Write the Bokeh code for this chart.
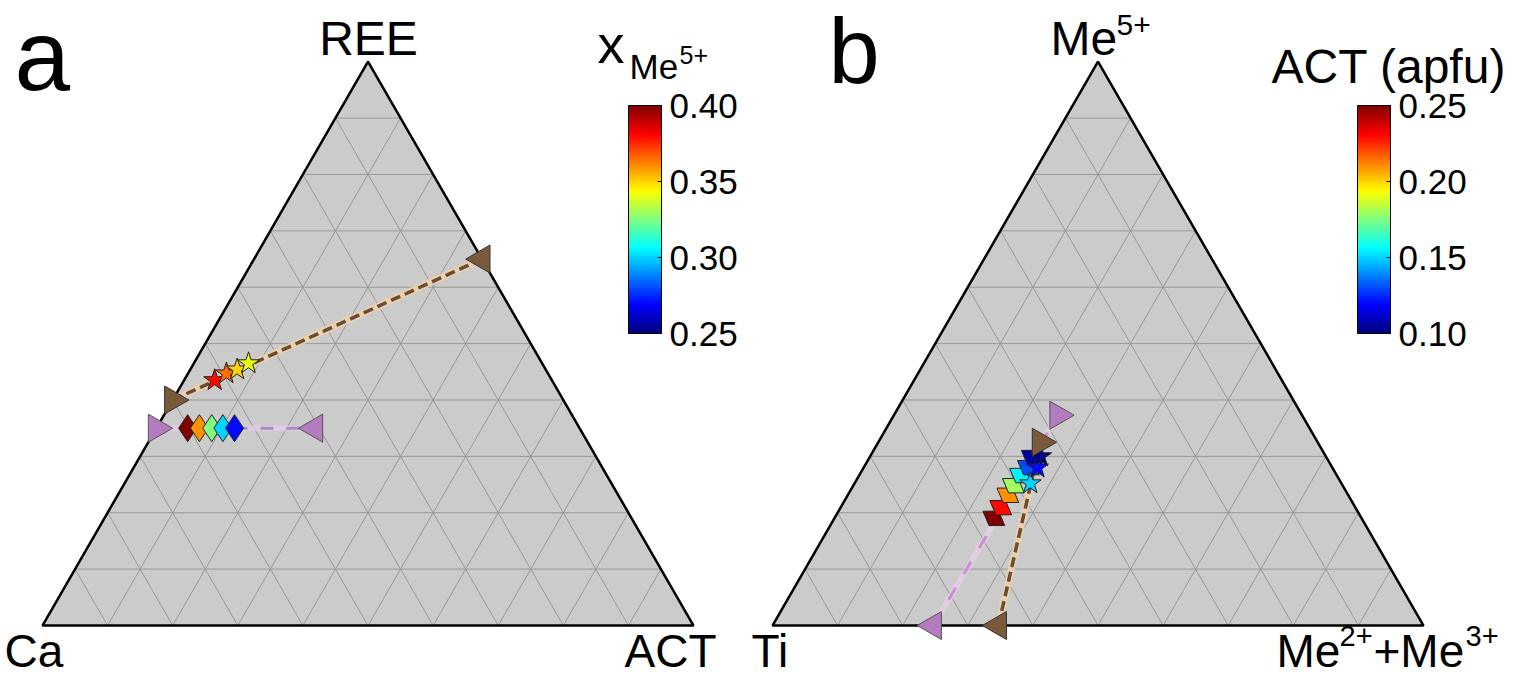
import numpy as np
from bokeh.plotting import figure
from bokeh.models import (LinearColorMapper, ColorBar, FixedTicker, ColumnDataSource,
                          PrintfTickFormatter, Label, Range1d)
from bokeh.embed import file_html
from bokeh.resources import INLINE

# ---------------- data : panel a  (Ca - ACT - REE) ----------------
a_diamond_ree = [0.35, 0.35, 0.35, 0.35, 0.35]
a_diamond_act = [0.048, 0.066, 0.085, 0.102, 0.120]
a_diamond_xme5 = [0.40, 0.36, 0.325, 0.30, 0.27]

a_star_ree = [0.435, 0.447, 0.454, 0.465]
a_star_act = [0.047, 0.059, 0.072, 0.084]
a_star_xme5 = [0.38, 0.365, 0.35, 0.34]

a_brown_ree = [0.40, 0.65]
a_brown_act = [0.00, 0.35]
a_purple_ree = [0.35, 0.35]
a_purple_act = [0.00, 0.243]

a_cbar_low, a_cbar_high = 0.25, 0.40
a_cbar_ticks = [0.25, 0.30, 0.35, 0.40]

# ---------------- data : panel b  (Ti - Me2++Me3+ - Me5+) ----------------
b_diamond_me5 = [0.190, 0.209, 0.231, 0.248, 0.266, 0.280, 0.298]
b_diamond_me23 = [0.245, 0.246, 0.246, 0.246, 0.248, 0.253, 0.250]
b_diamond_act = [0.25, 0.23, 0.21, 0.18, 0.155, 0.13, 0.105]

b_star_me5 = [0.252, 0.280, 0.300]
b_star_me23 = [0.270, 0.267, 0.262]
b_star_act = [0.15, 0.12, 0.10]

b_brown_me5 = [0.000, 0.325]
b_brown_me23 = [0.347, 0.249]
b_purple_me5 = [0.000, 0.373]
b_purple_me23 = [0.247, 0.252]

b_cbar_low, b_cbar_high = 0.10, 0.25
b_cbar_ticks = [0.10, 0.15, 0.20, 0.25]

# ---------------- layout helpers ----------------
W, H = 1515, 679
S = 651.0                 # pixels per triangle side
OX_A, OY = 42, 625        # pixel of bottom-left vertex, panel a
OX_B = 772                # pixel of bottom-left vertex, panel b
XB = (OX_B - OX_A) / S    # data offset of panel b
R3 = np.sqrt(3) / 2


def tern(right, top, x0=0.0):
    right = np.asarray(right, float)
    top = np.asarray(top, float)
    return right + top / 2 + x0, top * R3


def dx(px):
    return (px - OX_A) / S


def dy(py):
    return (OY - py) / S


def jet(n=256):
    t = np.linspace(0, 1, n)
    r = np.clip(1.5 - np.abs(4 * t - 3), 0, 1)
    g = np.clip(1.5 - np.abs(4 * t - 2), 0, 1)
    b = np.clip(1.5 - np.abs(4 * t - 1), 0, 1)
    return ["#%02x%02x%02x" % (int(a * 255), int(c * 255), int(d * 255))
            for a, c, d in zip(r, g, b)]


JET = jet()
FONT = "Liberation Sans"
BROWN = "#7a5a3a"
PURPLE = "#b47cbf"

p = figure(width=W, height=H, output_backend="svg", toolbar_location=None,
           x_range=Range1d(-OX_A / S, (W - OX_A) / S),
           y_range=Range1d(-(H - OY) / S, OY / S),
           min_border=0, outline_line_color=None)
p.axis.visible = False
p.grid.visible = False
p.background_fill_color = "white"


def draw_frame(x0):
    xs, ys = tern([0, 1, 0], [0, 0, 1], x0)
    p.patch(list(xs), list(ys), fill_color="#cbcbcb", line_color=None)
    gx, gy = [], []
    for k in range(1, 10):
        f = k / 10
        for (r1, t1, r2, t2) in [(0, f, 1 - f, f), (f, 0, f, 1 - f), (1 - f, 0, 0, 1 - f)]:
            lx, ly = tern([r1, r2], [t1, t2], x0)
            gx.append(list(lx))
            gy.append(list(ly))
    p.multi_line(gx, gy, line_color="#949494", line_width=1, line_alpha=0.9)
    p.patch(list(xs), list(ys), fill_color=None, line_color="black", line_width=2.5)


draw_frame(0.0)
draw_frame(XB)

cm_a = LinearColorMapper(palette=JET, low=a_cbar_low, high=a_cbar_high)
cm_b = LinearColorMapper(palette=JET, low=b_cbar_low, high=b_cbar_high)

LEFT, RIGHT = np.pi / 2, -np.pi / 2

# ---------- panel a marks ----------
bx, by = tern(a_brown_act, a_brown_ree)
p.line(bx, by, line_color="#ecd2ac", line_width=7, line_alpha=0.9)
p.line(bx, by, line_color="#6a4c32", line_width=3.5, line_dash="10 5")
ux, uy = tern(a_purple_act, a_purple_ree)
p.line(ux, uy, line_color="#eccdee", line_width=6, line_alpha=0.6)
p.line(ux, uy, line_color="#a88cc6", line_width=3, line_dash="13 13")

sx, sy = tern(a_star_act, a_star_ree)
src = ColumnDataSource(dict(x=sx, y=sy, c=a_star_xme5))
p.scatter("x", "y", source=src, marker="star", size=23,
          fill_color={"field": "c", "transform": cm_a}, line_color="#222222", line_width=1)
ddx, ddy = tern(a_diamond_act, a_diamond_ree)
src = ColumnDataSource(dict(x=ddx, y=ddy, c=a_diamond_xme5))
p.scatter("x", "y", source=src, marker="diamond", size=27,
          fill_color={"field": "c", "transform": cm_a}, line_color="#222222", line_width=1)

p.scatter([bx[0]], [by[0]], marker="triangle", size=28, angle=RIGHT,
          fill_color=BROWN, line_color="#333333", line_width=1)
p.scatter([bx[1]], [by[1]], marker="triangle", size=28, angle=LEFT,
          fill_color=BROWN, line_color="#333333", line_width=1)
p.scatter([ux[0]], [uy[0]], marker="triangle", size=28, angle=RIGHT,
          fill_color=PURPLE, line_color="#555555", line_width=1)
p.scatter([ux[1]], [uy[1]], marker="triangle", size=28, angle=LEFT,
          fill_color=PURPLE, line_color="#555555", line_width=1)

# ---------- panel b marks ----------
bx, by = tern(b_brown_me23, b_brown_me5, XB)
p.line(bx, by, line_color="#ecd2ac", line_width=7, line_alpha=0.9)
p.line(bx, by, line_color="#6a4c32", line_width=3.5, line_dash="10 5")
ux, uy = tern(b_purple_me23, b_purple_me5, XB)
p.line(ux, uy, line_color="#f0d0f0", line_width=6, line_alpha=0.6)
p.line(ux, uy, line_color="#c98fd2", line_width=3, line_dash="14 16")

ddx, ddy = tern(b_diamond_me23, b_diamond_me5, XB)
src = ColumnDataSource(dict(x=ddx, y=ddy, c=b_diamond_act))
p.scatter("x", "y", source=src, marker="diamond", size=26, angle=0.99,
          fill_color={"field": "c", "transform": cm_b}, line_color="#222222", line_width=1)
sx, sy = tern(b_star_me23, b_star_me5, XB)
src = ColumnDataSource(dict(x=sx, y=sy, c=b_star_act))
p.scatter("x", "y", source=src, marker="star", size=23,
          fill_color={"field": "c", "transform": cm_b}, line_color="#222222", line_width=1)

p.scatter([bx[0]], [by[0]], marker="triangle", size=28, angle=LEFT,
          fill_color=BROWN, line_color="#333333", line_width=1)
p.scatter([bx[1]], [by[1]], marker="triangle", size=28, angle=RIGHT,
          fill_color=BROWN, line_color="#333333", line_width=1)
p.scatter([ux[0]], [uy[0]], marker="triangle", size=28, angle=LEFT,
          fill_color=PURPLE, line_color="#555555", line_width=1)
p.scatter([ux[1]], [uy[1]], marker="triangle", size=28, angle=RIGHT,
          fill_color=PURPLE, line_color="#555555", line_width=1)


# ---------- colour bars ----------
def cbar(cm, ticks, left_px):
    cb = ColorBar(color_mapper=cm, ticker=FixedTicker(ticks=ticks),
                  formatter=PrintfTickFormatter(format="%.2f"),
                  width=33, height=228, location=(left_px, H - 333),
                  padding=0, background_fill_alpha=0, border_line_color=None,
                  bar_line_color="black", bar_line_width=1,
                  major_tick_line_color="black", major_tick_in=4, major_tick_out=0,
                  minor_tick_line_color=None, label_standoff=8,
                  major_label_text_font=FONT, major_label_text_font_size="35px",
                  major_label_text_color="black")
    p.add_layout(cb)


cbar(cm_a, a_cbar_ticks, 628)
cbar(cm_b, b_cbar_ticks, 1357)


# ---------- text ----------
def lab(text, px, py, size, align="left"):
    # py is the wanted baseline; the renderer puts it ~0.36 em lower
    p.add_layout(Label(x=dx(px), y=dy(py - 0.36 * size), text=text, text_font=FONT,
                       text_font_size=f"{size}px", text_align=align,
                       text_baseline="alphabetic", text_color="black"))


lab("a", 14, 90, 100)
lab("b", 828, 84, 92)
lab("REE", 368, 55, 48, "center")
lab("Ca", 4, 667, 46)
lab("ACT", 716, 667, 46, "right")
lab("Ti", 751, 667, 46)
lab("Me", 1050, 55, 48)
lab("5+", 1116, 35, 30)
lab("Me", 1276, 667, 46)
lab("2+", 1339, 646, 29)
lab("+Me", 1373, 667, 46)
lab("3+", 1465, 646, 29)
lab("x", 597, 63, 54)
lab("Me", 629, 79, 35)
lab("5+", 679, 63, 25)
lab("ACT (apfu)", 1271, 83, 48)

open("out.html", "w").write(file_html(p, INLINE))
